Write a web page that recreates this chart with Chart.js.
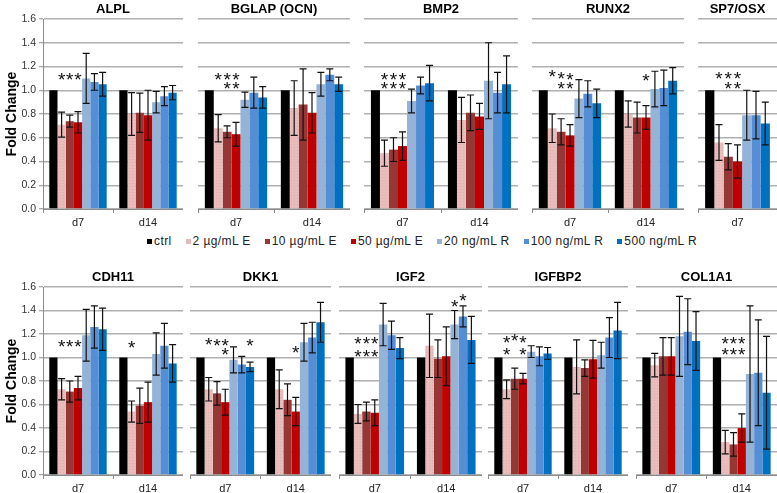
<!DOCTYPE html>
<html>
<head>
<meta charset="utf-8">
<script src="https://cdn.jsdelivr.net/npm/chart.js@4.4.0/dist/chart.umd.min.js"></script>
<style>
html, body { margin: 0; padding: 0; background: #fff; overflow: hidden; }
#wrap { position: relative; width: 777px; height: 493px; overflow: hidden; }
#wrap canvas { position: absolute; }
#legend { position: absolute; top: 234px; left: 147px; display: flex; white-space: nowrap;
  font: 12px "Liberation Sans", Arial, sans-serif; letter-spacing: 0.4px; color: #222; }
#legend .item { display: flex; align-items: center; margin-right: 14px; }
#legend i { display: inline-block; width: 5px; height: 5px; margin-right: 2px; }
</style>
</head>
<body>
<div id="wrap"><div id="legend"></div></div>
<script>
// series + categories
const series = ['ctrl', '2 µg/mL E', '10 µg/mL E', '50 µg/mL E', '20 ng/mL R', '100 ng/mL R', '500 ng/mL R'];
const colors = ['#000000', '#e6b9b8', '#953735', '#c00000', '#95b3d7', '#558ed5', '#0070c0'];
const days = ['d7', 'd14'];
const yTicks = [0, 0.2, 0.4, 0.6, 0.8, 1.0, 1.2, 1.4, 1.6];

// means / SD per day (rows) and series (columns)
const alplMean = [[1, 0.71, 0.74, 0.73, 1.10, 1.07, 1.05], [1, 0.80, 0.81, 0.79, 0.90, 0.95, 0.98]];
const alplErr = [[0, 0.105, 0.05, 0.09, 0.21, 0.07, 0.10], [0, 0.18, 0.165, 0.21, 0.09, 0.08, 0.06]];
const bglapMean = [[1, 0.68, 0.65, 0.63, 0.92, 0.98, 0.94], [1, 0.85, 0.88, 0.81, 1.05, 1.13, 1.05]];
const bglapErr = [[0, 0.115, 0.05, 0.10, 0.065, 0.13, 0.09], [0, 0.23, 0.30, 0.17, 0.10, 0.05, 0.06]];
const bmp2Mean = [[1, 0.47, 0.50, 0.53, 0.91, 1.04, 1.06], [1, 0.75, 0.81, 0.78, 1.08, 0.98, 1.05]];
const bmp2Err = [[0, 0.11, 0.10, 0.12, 0.10, 0.07, 0.15], [0, 0.19, 0.15, 0.11, 0.32, 0.17, 0.24]];
const runx2Mean = [[1, 0.68, 0.65, 0.62, 0.93, 0.97, 0.89], [1, 0.80, 0.77, 0.77, 1.01, 1.02, 1.08]];
const runx2Err = [[0, 0.12, 0.11, 0.09, 0.16, 0.11, 0.12], [0, 0.11, 0.13, 0.10, 0.15, 0.15, 0.11]];
const sp7Mean = [[1, 0.56, 0.44, 0.40, 0.79, 0.79, 0.72]];
const sp7Err = [[0, 0.15, 0.11, 0.14, 0.21, 0.20, 0.18]];
const cdh11Mean = [[1, 0.73, 0.71, 0.74, 1.19, 1.26, 1.24], [1, 0.54, 0.59, 0.62, 1.03, 1.10, 0.95]];
const cdh11Err = [[0, 0.09, 0.09, 0.10, 0.22, 0.18, 0.18], [0, 0.09, 0.15, 0.17, 0.18, 0.19, 0.16]];
const dkk1Mean = [[1, 0.73, 0.695, 0.62, 0.98, 0.94, 0.92], [1, 0.73, 0.64, 0.54, 1.13, 1.17, 1.30]];
const dkk1Err = [[0, 0.10, 0.10, 0.11, 0.11, 0.07, 0.04], [0, 0.165, 0.135, 0.12, 0.16, 0.13, 0.17]];
const igf2Mean = [[1, 0.52, 0.54, 0.53, 1.28, 1.19, 1.08], [1, 1.10, 0.99, 1.01, 1.28, 1.35, 1.15]];
const igf2Err = [[0, 0.08, 0.08, 0.11, 0.18, 0.12, 0.09], [0, 0.27, 0.16, 0.25, 0.12, 0.09, 0.20]];
const igfbp2Mean = [[1, 0.73, 0.82, 0.82, 1.05, 1.01, 1.035], [1, 0.92, 0.91, 0.985, 1.02, 1.17, 1.23]];
const igfbp2Err = [[0, 0.08, 0.09, 0.045, 0.05, 0.08, 0.05], [0, 0.23, 0.07, 0.16, 0.11, 0.17, 0.24]];
const col1a1Mean = [[1, 0.935, 1.01, 1.01, 1.18, 1.22, 1.14], [1, 0.28, 0.26, 0.40, 0.86, 0.87, 0.70]];
const col1a1Err = [[0, 0.10, 0.16, 0.16, 0.34, 0.28, 0.25], [0, 0.10, 0.10, 0.12, 0.58, 0.45, 0.48]];

// significance stars: [day index, series index, level]
const alplStars = [[0, 1, 1.13], [0, 2, 1.13], [0, 3, 1.13]];
const bglapStars = [[0, 1, 1.13], [0, 2, 1.13], [0, 3, 1.13], [0, 2, 1.05], [0, 3, 1.05]];
const bmp2Stars = [[0, 1, 1.13], [0, 2, 1.13], [0, 3, 1.13], [0, 1, 1.05], [0, 2, 1.05], [0, 3, 1.05]];
const runx2Stars = [[0, 1, 1.15], [0, 2, 1.14], [0, 3, 1.13], [0, 2, 1.05], [0, 3, 1.05], [1, 3, 1.12]];
const sp7Stars = [[0, 1, 1.14], [0, 2, 1.14], [0, 3, 1.14], [0, 2, 1.05], [0, 3, 1.05]];
const cdh11Stars = [[0, 1, 1.13], [0, 2, 1.13], [0, 3, 1.13], [1, 1, 1.12]];
const dkk1Stars = [[0, 1, 1.15], [0, 2, 1.14], [0, 3, 1.14], [0, 3, 1.06], [0, 6, 1.14], [1, 3, 1.08]];
const igf2Stars = [[0, 1, 1.16], [0, 2, 1.16], [0, 3, 1.16], [0, 1, 1.05], [0, 2, 1.05], [0, 3, 1.05], [1, 4, 1.47], [1, 5, 1.52]];
const igfbp2Stars = [[0, 1, 1.17], [0, 2, 1.18], [0, 3, 1.17], [0, 1, 1.06], [0, 3, 1.06]];
const col1a1Stars = [[1, 1, 1.16], [1, 2, 1.16], [1, 3, 1.16], [1, 1, 1.06], [1, 2, 1.06], [1, 3, 1.06]];

const FONT = '"Liberation Sans", Arial, Helvetica, sans-serif';

const panels = [
    { title: 'ALPL', mean: alplMean, err: alplErr, stars: alplStars, row: 0, x0: 43, x1: 183, axis: true },
    { title: 'BGLAP (OCN)', mean: bglapMean, err: bglapErr, stars: bglapStars, row: 0, x0: 198, x1: 350 },
    { title: 'BMP2', mean: bmp2Mean, err: bmp2Err, stars: bmp2Stars, row: 0, x0: 364, x1: 518 },
    { title: 'RUNX2', mean: runx2Mean, err: runx2Err, stars: runx2Stars, row: 0, x0: 532, x1: 684 },
    { title: 'SP7/OSX', mean: sp7Mean, err: sp7Err, stars: sp7Stars, row: 0, x0: 698, x1: 777 },
    { title: 'CDH11', mean: cdh11Mean, err: cdh11Err, stars: cdh11Stars, row: 1, x0: 43, x1: 183, axis: true },
    { title: 'DKK1', mean: dkk1Mean, err: dkk1Err, stars: dkk1Stars, row: 1, x0: 190, x1: 331 },
    { title: 'IGF2', mean: igf2Mean, err: igf2Err, stars: igf2Stars, row: 1, x0: 339, x1: 482 },
    { title: 'IGFBP2', mean: igfbp2Mean, err: igfbp2Err, stars: igfbp2Stars, row: 1, x0: 488, x1: 628 },
    { title: 'COL1A1', mean: col1a1Mean, err: col1a1Err, stars: col1a1Stars, row: 1, x0: 636, x1: 777 }
];

// rows: canvas top, plot height
const rows = [{ top: 0, plot: 190 }, { top: 268, plot: 188 }];
const TITLE_H = 19, XAXIS_H = 24, YAXIS_W = 43;

function dotPattern() {
    var c = document.createElement('canvas');
    c.width = 3; c.height = 3;
    var g = c.getContext('2d');
    g.fillStyle = '#e8bdbc';
    g.fillRect(0, 0, 3, 3);
    g.fillStyle = '#deaeac';
    g.fillRect(0, 0, 1, 1);
    return g.createPattern(c, 'repeat');
}
const pinkFill = dotPattern();

function errorBars(err) {
    return {
        id: 'errorBars',
        afterDatasetsDraw: function (chart) {
            var ctx = chart.ctx, y = chart.scales.y;
            ctx.save();
            ctx.strokeStyle = '#111';
            ctx.lineWidth = 1.2;
            chart.data.datasets.forEach(function (ds, i) {
                chart.getDatasetMeta(i).data.forEach(function (bar, j) {
                    var e = err[j][i];
                    if (!e) return;
                    var v = ds.data[j];
                    var top = y.getPixelForValue(v + e);
                    var bot = y.getPixelForValue(v - e);
                    var x = bar.x;
                    ctx.beginPath();
                    ctx.moveTo(x, top); ctx.lineTo(x, bot);
                    ctx.moveTo(x - 3.5, top); ctx.lineTo(x + 3.5, top);
                    ctx.moveTo(x - 3.5, bot); ctx.lineTo(x + 3.5, bot);
                    ctx.stroke();
                });
            });
            ctx.restore();
        }
    };
}

function starMarks(list) {
    return {
        id: 'starMarks',
        afterDatasetsDraw: function (chart) {
            var ctx = chart.ctx, y = chart.scales.y;
            ctx.save();
            ctx.font = '19px ' + FONT;
            ctx.fillStyle = '#111';
            ctx.textAlign = 'center';
            ctx.textBaseline = 'alphabetic';
            list.forEach(function (s) {
                var el = chart.getDatasetMeta(s[1]).data[s[0]];
                ctx.fillText('*', el.x, y.getPixelForValue(s[2]) + 11);
            });
            ctx.restore();
        }
    };
}

const wrap = document.getElementById('wrap');

panels.forEach(function (p) {
    var row = rows[p.row];
    var left = p.axis ? p.x0 - YAXIS_W : p.x0;
    var canvas = document.createElement('canvas');
    canvas.width = p.x1 - left;
    canvas.height = TITLE_H + row.plot + XAXIS_H;
    canvas.style.left = left + 'px';
    canvas.style.top = row.top + 'px';
    wrap.appendChild(canvas);

    var labels = days.slice(0, p.mean.length);
    var datasets = series.map(function (name, i) {
        return {
            label: name,
            data: p.mean.map(function (d) { return d[i]; }),
            backgroundColor: i === 1 ? pinkFill : colors[i],
            borderWidth: 0,
            barPercentage: 1,
            categoryPercentage: 0.82
        };
    });

    new Chart(canvas, {
        type: 'bar',
        data: { labels: labels, datasets: datasets },
        options: {
            responsive: false,
            animation: false,
            devicePixelRatio: 1,
            layout: { padding: 0 },
            plugins: {
                legend: { display: false },
                tooltip: { enabled: false },
                title: {
                    display: true,
                    text: p.title,
                    fullSize: false,
                    color: '#000',
                    font: { family: FONT, size: 13, weight: 'bold', lineHeight: 1 },
                    padding: { top: 3, bottom: 3 }
                }
            },
            scales: {
                x: {
                    grid: { display: true, drawOnChartArea: false, drawTicks: true, tickLength: 4, color: '#8c8c8c', offset: true },
                    border: { display: true, color: '#8c8c8c', width: 1 },
                    ticks: { font: { family: FONT, size: 11 }, color: '#222', padding: 3 },
                    afterFit: function (s) { s.height = XAXIS_H; }
                },
                y: {
                    min: 0,
                    max: 1.6,
                    afterBuildTicks: function (s) { s.ticks = yTicks.map(function (v) { return { value: v }; }); },
                    grid: { color: '#b0b0b0', lineWidth: 1.5, drawTicks: !!p.axis, tickLength: 4, tickColor: '#8c8c8c', tickWidth: 1 },
                    border: { display: !!p.axis, color: '#8c8c8c', width: 1 },
                    ticks: {
                        display: !!p.axis,
                        font: { family: FONT, size: 10.5 },
                        color: '#333',
                        padding: 3,
                        callback: function (v) { return Number(v).toFixed(1); }
                    },
                    title: {
                        display: !!p.axis,
                        text: 'Fold Change',
                        color: '#000',
                        font: { family: FONT, size: 14, weight: 'bold' },
                        padding: { top: 4, bottom: 0 }
                    },
                    afterFit: function (s) { s.width = p.axis ? YAXIS_W : 0; }
                }
            }
        },
        plugins: [errorBars(p.err), starMarks(p.stars)]
    });
});

// html legend
var legend = document.getElementById('legend');
series.forEach(function (name, i) {
    var item = document.createElement('span');
    item.className = 'item';
    var sw = document.createElement('i');
    sw.style.background = colors[i];
    item.appendChild(sw);
    item.appendChild(document.createTextNode(name));
    legend.appendChild(item);
});
</script>
</body>
</html>
